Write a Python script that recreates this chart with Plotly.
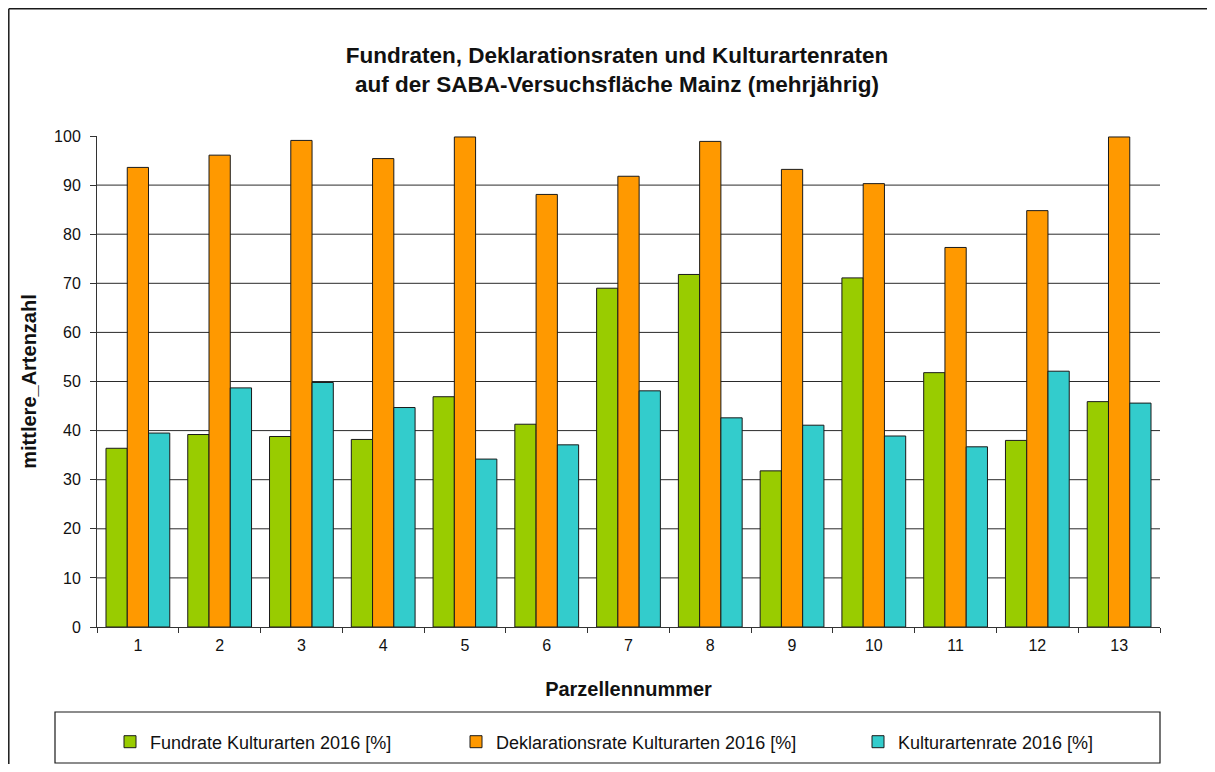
import plotly.graph_objects as go

categories = [str(i) for i in range(1, 14)]
fundrate = [36.4, 39.2, 38.8, 38.2, 46.9, 41.3, 69.0, 71.8, 31.8, 71.1, 51.8, 38.0, 45.9]
deklarationsrate = [93.6, 96.1, 99.1, 95.4, 99.8, 88.1, 91.8, 98.9, 93.2, 90.3, 77.3, 84.8, 99.8]
kulturartenrate = [39.5, 48.7, 49.8, 44.7, 34.2, 37.1, 48.1, 42.6, 41.1, 38.9, 36.7, 52.1, 45.6]

series_names = ["Fundrate Kulturarten 2016 [%]",
                "Deklarationsrate Kulturarten 2016 [%]",
                "Kulturartenrate 2016 [%]"]
colors = ["#99CC00", "#FF9900", "#33CCCC"]
y_ticks = list(range(0, 101, 10))
grid_vals = y_ticks[1:-1]

title_text = ("Fundraten, Deklarationsraten und Kulturartenraten<br>"
              "auf der SABA-Versuchsfläche Mainz (mehrjährig)")

FONT = "Liberation Sans, Arial, sans-serif"

fig = go.Figure()
legends = ["legend", "legend2", "legend3"]
for name, vals, col, lg in zip(series_names, [fundrate, deklarationsrate, kulturartenrate], colors, legends):
    fig.add_trace(go.Bar(
        x=categories, y=vals, name=name, legend=lg,
        marker=dict(color=col, line=dict(color="#1a1a1a", width=1)),
    ))

# page body margin offset (8px) compensation; keep page within the window
OFF = 8
W, H = 1215 - 2 * OFF, 772 - 2 * OFF
# plot area in screenshot coordinates: x 97..1160, y 136..627
L, T = 97 - OFF, 136 - OFF
R = W - (1160 - OFF)
B = H - (627 - OFF)
pw, ph = W - L - R, H - T - B

def px_x(s):
    return (s - OFF - L) / pw

def px_y(s):
    return (H - B - (s - OFF)) / ph

shapes = []
for g in grid_vals:
    shapes.append(dict(type="line", xref="paper", yref="y", x0=0, x1=1, y0=g, y1=g,
                       line=dict(color="#2a2a2a", width=1), layer="below"))
# legend frame
shapes.append(dict(type="rect", xref="paper", yref="paper",
                   x0=px_x(55), x1=px_x(1160), y0=px_y(763), y1=px_y(712),
                   line=dict(color="#1a1a1a", width=1.2), fillcolor="rgba(0,0,0,0)"))
# outer chart frame (top and left edges; the others are outside the picture)
shapes.append(dict(type="line", xref="paper", yref="paper",
                   x0=px_x(8.8), x1=px_x(1240), y0=px_y(8.8), y1=px_y(8.8),
                   line=dict(color="#1a1a1a", width=1.5)))
shapes.append(dict(type="line", xref="paper", yref="paper",
                   x0=px_x(8.8), x1=px_x(8.8), y0=px_y(8.8), y1=px_y(800),
                   line=dict(color="#1a1a1a", width=1.5)))

legend_common = dict(orientation="h", yanchor="middle", y=px_y(742), xanchor="left",
                     font=dict(family=FONT, size=18, color="#111111"),
                     bgcolor="rgba(0,0,0,0)", borderwidth=0, itemwidth=30,
                     itemclick=False, itemdoubleclick=False)

fig.update_layout(
    width=W, height=H,
    margin=dict(l=L, r=R, t=T, b=B, autoexpand=False),
    paper_bgcolor="white", plot_bgcolor="white",
    font=dict(family=FONT, color="#111111"),
    title=dict(text=title_text, x=(617 - OFF) / W, xanchor="center", xref="container",
               y=1 - (63 - OFF) / H, yanchor="middle", yref="container",
               font=dict(family=FONT, size=22.5, color="#111111", weight="bold")),
    barmode="group", bargap=0.22, bargroupgap=0,
    showlegend=True,
    legend=dict(legend_common, x=px_x(110)),
    legend2=dict(legend_common, x=px_x(456)),
    legend3=dict(legend_common, x=px_x(858)),
    xaxis=dict(type="category", tickson="boundaries", ticks="outside", ticklen=5,
               tickcolor="#333333", showline=True, linecolor="#333333", linewidth=1,
               showgrid=False, ticklabelstandoff=4,
               tickfont=dict(family=FONT, size=16, color="#111111"),
               title=dict(text="Parzellennummer", standoff=28,
                          font=dict(family=FONT, size=20, color="#111111", weight="bold")),
               automargin=False),
    yaxis=dict(range=[0, 100], tickvals=y_ticks, ticks="outside", ticklen=6,
               tickcolor="#333333", showline=True, linecolor="#333333", linewidth=1,
               showgrid=False, zeroline=False, ticklabelstandoff=6,
               tickfont=dict(family=FONT, size=16, color="#111111"),
               title=dict(text="mittlere_Artenzahl", standoff=12,
                          font=dict(family=FONT, size=20, color="#111111", weight="bold")),
               automargin=False),
    shapes=shapes,
)

fig.write_html("out.html")
